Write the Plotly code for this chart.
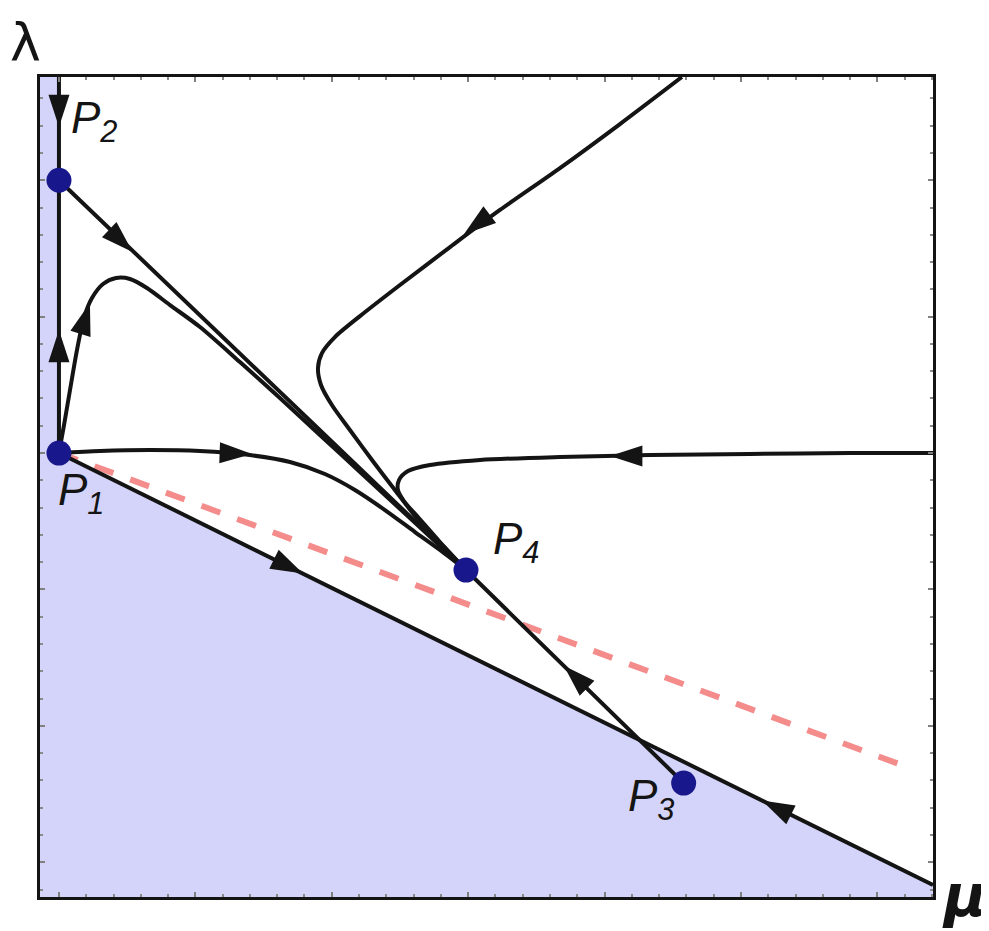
import plotly.graph_objects as go

# ---------------- data (mu, lambda) ----------------
# fixed points
point_mu = [0.0, 0.0, 4.58, 2.984]
point_lam = [0.0, 2.0, -2.42, -0.858]

# shaded (unphysical) region
region_mu = [-0.3, 0.0, 0.0, 6.6, 6.6, -0.3]
region_lam = [2.9, 2.9, 0.0, -3.262, -3.4, -3.4]

# boundary line from P1 to the lower-right corner
boundary_mu = [0.0, 6.408]
boundary_lam = [0.0, -3.167]

# red dashed line
dashed_mu = [0.0, 6.24]
dashed_lam = [0.0, -2.31]

# vertical invariant line mu = 0
vert_mu = [0.0, 0.0]
vert_lam = [2.8, 0.0]

# straight heteroclinic P2 -> P4 <- P3
p2p4p3_mu = [0.0, 2.984, 4.58]
p2p4p3_lam = [2.0, -0.858, -2.42]

# curve leaving P1 upwards, looping to P4
loop_mu = [0.0, 0.037, 0.081, 0.132, 0.183, 0.242, 0.323, 0.418, 0.521, 0.645, 0.814,
           1.034, 1.327, 1.620, 1.913, 2.207, 2.573, 2.984]
loop_lam = [0.0, 0.205, 0.462, 0.755, 0.990, 1.136, 1.239, 1.283, 1.276, 1.210, 1.085,
            0.924, 0.667, 0.403, 0.132, -0.139, -0.477, -0.858]

# curve leaving P1 to the right, ending in P4
right_mu = [0.0, 0.301, 0.667, 1.034, 1.400, 1.694, 1.950, 2.170, 2.390, 2.610, 2.793, 2.984]
right_lam = [0.0, 0.015, 0.022, 0.015, -0.015, -0.066, -0.154, -0.271, -0.418, -0.579, -0.711, -0.858]

# curve coming from the top edge
top_mu = [4.567, 4.113, 3.673, 3.233, 2.867, 2.500, 2.207, 2.023, 1.928, 1.899, 1.921, 2.001,
          2.133, 2.295, 2.463, 2.647, 2.830, 2.984]
top_lam = [2.757, 2.412, 2.089, 1.782, 1.510, 1.232, 1.004, 0.850, 0.733, 0.623, 0.499, 0.352,
           0.169, -0.051, -0.271, -0.506, -0.696, -0.858]

# curve coming from the right edge
side_mu = [6.41, 5.799, 5.066, 4.333, 3.673, 3.087, 2.720, 2.559, 2.493, 2.485, 2.529, 2.632, 2.793, 2.984]
side_lam = [0.0, 0.0, -0.007, -0.015, -0.029, -0.051, -0.088, -0.132, -0.198, -0.271, -0.352,
            -0.469, -0.652, -0.858]

# arrow heads: tip position and direction (deg clockwise from up)
arrow_mu = [0.0, 0.0, 0.227, 0.54, 1.415, 1.789, 5.154, 3.702, 2.969, 4.040]
arrow_lam = [2.39, 0.902, 1.100, 1.474, -0.007, -0.884, -2.548, -1.559, 1.605, -0.022]
arrow_angle = [180, 0, 17, 133.7, 92, 116.3, 296.3, 314.3, 233, 270]

# labels
label_text = ["<i>P<sub>1</sub></i>", "<i>P<sub>2</sub></i>", "<i>P<sub>3</sub></i>", "<i>P<sub>4</sub></i>"]
label_mu = [-0.02, 0.075, 4.155, 3.17]
label_lam = [-0.07, 2.655, -2.32, -0.43]

# ---------------- figure ----------------
BLACK = "#141414"
fig = go.Figure()

fig.add_trace(go.Scatter(x=region_mu, y=region_lam, fill="toself", mode="none",
                         fillcolor="rgb(212,212,250)", hoverinfo="skip"))

fig.add_trace(go.Scatter(x=dashed_mu, y=dashed_lam, mode="lines",
                         line=dict(color="#f48c8c", width=6, dash="20px,18px")))

for xs, ys, shape in [(boundary_mu, boundary_lam, "linear"),
                      (vert_mu, vert_lam, "linear"),
                      (p2p4p3_mu, p2p4p3_lam, "linear"),
                      (loop_mu, loop_lam, "spline"),
                      (right_mu, right_lam, "spline"),
                      (top_mu, top_lam, "spline"),
                      (side_mu, side_lam, "spline")]:
    fig.add_trace(go.Scatter(x=xs, y=ys, mode="lines",
                             line=dict(color=BLACK, width=4, shape=shape, smoothing=0.8)))

fig.add_trace(go.Scatter(x=arrow_mu, y=arrow_lam, mode="markers",
                         marker=dict(symbol="arrow", size=34, angle=arrow_angle,
                                     color=BLACK, line=dict(width=0))))

fig.add_trace(go.Scatter(x=point_mu, y=point_lam, mode="markers",
                         marker=dict(size=25, color="#18188c", line=dict(width=0))))

for t, xm, yl in zip(label_text, label_mu, label_lam):
    fig.add_annotation(x=xm, y=yl, xref="x", yref="y", text=t, showarrow=False,
                       xanchor="left", yanchor="top",
                       font=dict(family="Liberation Sans", size=44, color=BLACK))

fig.add_annotation(x=-0.0157, y=1.0427, xref="paper", yref="paper", text="λ", showarrow=False,
                   xanchor="center", yanchor="middle",
                   font=dict(family="DejaVu Sans", size=52, color=BLACK))
fig.add_annotation(x=1.008, y=0.045, xref="paper", yref="paper", text="<b><i>μ</i></b>", showarrow=False,
                   xanchor="left", yanchor="top",
                   font=dict(family="DejaVu Sans", size=58, color=BLACK))

axis_common = dict(showgrid=False, zeroline=False, showticklabels=False,
                   showline=True, linewidth=3, linecolor=BLACK, mirror="allticks",
                   ticks="inside", ticklen=5, tickwidth=2, tickcolor="#808080",
                   tick0=0, dtick=1,
                   minor=dict(ticks="inside", ticklen=3, tickwidth=2, tickcolor="#8a8a8a", dtick=0.2))

# the page body adds an 8px offset, so the figure is 8px smaller and margins shifted
fig.update_layout(
    width=981, height=923,
    margin=dict(l=32, r=56, t=69, b=34),
    paper_bgcolor="white", plot_bgcolor="white",
    showlegend=False,
    xaxis=dict(range=[-0.139, 6.408], **axis_common),
    yaxis=dict(range=[-3.255, 2.757], **axis_common),
)

fig.write_html("out.html")
